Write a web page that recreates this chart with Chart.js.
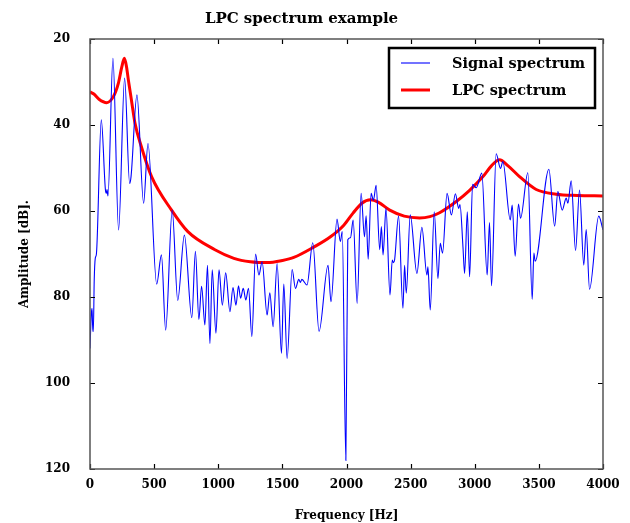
<!DOCTYPE html>
<html>
<head>
<meta charset="utf-8">
<script src="https://cdn.jsdelivr.net/npm/chart.js@4.4.1/dist/chart.umd.min.js"></script>
<style>
  html, body { margin: 0; padding: 0; background: #fff; }
  #wrap { width: 630px; height: 523px; }
</style>
</head>
<body>
<div id="wrap"><canvas id="lpcChart"></canvas></div>
<script>
// Signal spectrum (peaks and troughs)
const signalFreq = [
  0, 10, 16, 22, 26, 33, 41, 50, 88, 120, 127, 133, 140, 179, 223, 270, 309, 320, 366, 418,
  452, 520, 557, 590, 641, 684, 736, 794, 822, 849, 870, 896, 916, 935, 953, 982, 1006, 1032,
  1058, 1091, 1115, 1138, 1158, 1174, 1195, 1215, 1236, 1262, 1291, 1317, 1342, 1381, 1402,
  1428, 1459, 1493, 1511, 1537, 1576, 1602, 1628, 1640, 1652, 1692, 1737, 1786, 1856, 1879,
  1926, 1952, 1967, 1995, 2010, 2031, 2052, 2083, 2114, 2140, 2153, 2169, 2192, 2210, 2231,
  2259, 2272, 2285, 2308, 2339, 2357, 2366, 2375, 2406, 2440, 2453, 2466, 2497, 2549, 2588,
  2627, 2635, 2653, 2684, 2713, 2731, 2749, 2784, 2818, 2849, 2875, 2885, 2908, 2921, 2942,
  2960, 2983, 3012, 3055, 3097, 3115, 3131, 3167, 3201, 3219, 3277, 3292, 3315, 3341, 3357,
  3414, 3448, 3461, 3471, 3578, 3623, 3648, 3682, 3713, 3726, 3752, 3786, 3817, 3850, 3869,
  3895, 3967, 4000
];
const signalDb = [
  92, 84, 82.6, 88, 88, 76, 71, 70, 38.8, 55, 55.9, 55, 56.5, 24.5, 64.4, 29.1, 53.6, 52, 33, 58.2,
  44.3, 77, 70.2, 87.7, 59.8, 80.8, 65.6, 84.8, 69.4, 85.2, 77.5, 86.5, 72.6, 90.8, 73.7, 88.4, 73.7, 81.9,
  74.4, 83.4, 77.8, 81.9, 77.4, 80.3, 78, 80.7, 78, 89.2, 70, 74.9, 71.8, 84.2, 79,
  86.9, 72.2, 93.1, 77, 94.3, 73.6, 78, 75.9, 76.6, 75.9, 77.2, 67.4, 88, 72.6, 81.1,
  61.9, 67.1, 64.8, 118, 66.7, 66.2, 62.1, 81.5, 55.9, 66, 61.1, 71.2, 55.9, 57.5, 54,
  69, 63.6, 70.2, 59.4, 79.5, 71.4, 72, 71.4, 61.2, 82.6, 72.6, 79.1, 60.9, 74.5, 63.8,
  74.9, 73, 83, 60.2, 75.7, 67.5, 69.8, 55.9, 60.9, 56, 59.4, 58.5, 68.3, 74.5, 60.2,
  75.3, 53.8, 54.6, 51.2, 74.9, 62.7, 77.4, 46.7, 50.1, 48.5, 62.1, 58.6, 70.5, 58.4, 61.7,
  51.1, 80.5, 69.8, 71.7, 50.3, 63.5, 55.5, 59.8, 57, 58.2, 53, 69.2, 55.1, 72.6, 64.3,
  78.2, 61.2, 64.4
];

// LPC envelope
const lpcFreq = [
  0, 30, 70, 130, 182, 221, 248, 268, 285, 299, 322, 351, 400, 480, 636, 763, 974, 1122,
  1250, 1381, 1500, 1589, 1745, 1875, 1979, 2051, 2120, 2186, 2250, 2337, 2450, 2570, 2650,
  2726, 2856, 2960, 3064, 3130, 3193, 3260, 3349, 3479, 3635, 3800, 4000
];
const lpcDb = [
  32.3, 32.8, 34, 34.8, 33.4, 30.3, 26.5, 24.5, 26.5, 29.5, 34, 39.6, 45, 52, 59.8, 64.8, 69, 71,
  71.8, 72, 71.5, 70.8, 68.4, 66, 63.3, 60.5, 58.2, 57.4, 58, 59.8, 61.2, 61.6, 61.3,
  60.4, 57.8, 55.2, 52, 49.5, 48.1, 49.5, 52, 55, 56.1, 56.4, 56.5
];

const xTicks = [0, 500, 1000, 1500, 2000, 2500, 3000, 3500, 4000];
const yTicks = [20, 40, 60, 80, 100, 120];

const seriesNames = ['Signal spectrum', 'LPC spectrum'];
const seriesColors = ['#0000ff', '#ff0000'];
const seriesWidths = [1.1, 3];

const FONT = "'DejaVu Serif', serif";

function toPoints(xs, ys) {
  return xs.map((x, i) => ({ x: x, y: ys[i] }));
}

// gnuplot-like frame with inward ticks on all four sides
const framePlugin = {
  id: 'frame',
  afterDatasetsDraw(chart) {
    const { ctx, chartArea: a, scales } = chart;
    const len = 5;
    ctx.save();
    ctx.strokeStyle = '#000';
    ctx.lineWidth = 1.2;
    ctx.beginPath();
    xTicks.forEach(v => {
      const px = Math.round(scales.x.getPixelForValue(v)) + 0.5;
      ctx.moveTo(px, a.bottom); ctx.lineTo(px, a.bottom - len);
      ctx.moveTo(px, a.top); ctx.lineTo(px, a.top + len);
    });
    yTicks.forEach(v => {
      const py = Math.round(scales.y.getPixelForValue(v)) + 0.5;
      ctx.moveTo(a.left, py); ctx.lineTo(a.left + len, py);
      ctx.moveTo(a.right, py); ctx.lineTo(a.right - len, py);
    });
    ctx.stroke();
    ctx.strokeStyle = '#555';
    ctx.lineWidth = 1.5;
    ctx.strokeRect(a.left, a.top, a.right - a.left, a.bottom - a.top);
    ctx.restore();
  }
};

// boxed key in the top right corner
const keyPlugin = {
  id: 'key',
  afterDraw(chart) {
    const { ctx, chartArea: a } = chart;
    const left = a.right - 214, top = a.top + 9, w = 206, h = 60;
    ctx.save();
    ctx.fillStyle = '#fff';
    ctx.fillRect(left, top, w, h);
    ctx.strokeStyle = '#000';
    ctx.lineWidth = 2.5;
    ctx.strokeRect(left, top, w, h);
    ctx.font = 'bold 14.5px ' + FONT;
    ctx.textBaseline = 'middle';
    ctx.fillStyle = '#000';
    chart.data.datasets.forEach((ds, i) => {
      const y = top + 15 + i * 27;
      ctx.strokeStyle = ds.borderColor;
      ctx.lineWidth = ds.borderWidth;
      ctx.beginPath();
      ctx.moveTo(left + 12, y);
      ctx.lineTo(left + 41, y);
      ctx.stroke();
      ctx.fillText(ds.label, left + 63, y + 1);
    });
    ctx.restore();
  }
};

new Chart(document.getElementById('lpcChart'), {
  type: 'line',
  data: {
    datasets: [
      {
        label: seriesNames[0],
        data: toPoints(signalFreq, signalDb),
        borderColor: seriesColors[0],
        borderWidth: seriesWidths[0],
        pointRadius: 0,
        cubicInterpolationMode: 'monotone',
        fill: false
      },
      {
        label: seriesNames[1],
        data: toPoints(lpcFreq, lpcDb),
        borderColor: seriesColors[1],
        borderWidth: seriesWidths[1],
        pointRadius: 0,
        cubicInterpolationMode: 'monotone',
        fill: false
      }
    ]
  },
  options: {
    responsive: true,
    maintainAspectRatio: false,
    animation: false,
    layout: { padding: { top: 0, right: 27, bottom: 0, left: 0 } },
    plugins: {
      legend: { display: false },
      tooltip: { enabled: false },
      title: {
        display: true,
        text: 'LPC spectrum example',
        color: '#000',
        font: { family: FONT, size: 15, weight: 'bold' },
        padding: { top: 10, bottom: 11 }
      }
    },
    scales: {
      x: {
        type: 'linear',
        min: 0,
        max: 4000,
        afterBuildTicks: scale => { scale.ticks = xTicks.map(v => ({ value: v })); },
        afterFit: scale => { scale.height = 54; },
        grid: { display: false, drawTicks: false },
        border: { display: false },
        ticks: {
          color: '#000',
          padding: 9,
          maxRotation: 0,
          callback: v => String(v),
          font: { family: FONT, size: 12, weight: 'bold' }
        },
        title: {
          display: true,
          text: 'Frequency [Hz]',
          color: '#000',
          font: { family: FONT, size: 12, weight: 'bold' },
          padding: { top: 0, bottom: 0 }
        }
      },
      y: {
        type: 'linear',
        reverse: true,
        min: 20,
        max: 120,
        afterBuildTicks: scale => { scale.ticks = yTicks.map(v => ({ value: v })); },
        afterFit: scale => { scale.width = 90; },
        grid: { display: false, drawTicks: false },
        border: { display: false },
        ticks: {
          color: '#000',
          padding: 20,
          callback: v => String(v),
          font: { family: FONT, size: 12, weight: 'bold' }
        },
        title: {
          display: true,
          text: 'Amplitude [dB].',
          color: '#000',
          font: { family: FONT, size: 12, weight: 'bold' },
          padding: { top: 18, bottom: 0 }
        }
      }
    }
  },
  plugins: [framePlugin, keyPlugin]
});
</script>
</body>
</html>
